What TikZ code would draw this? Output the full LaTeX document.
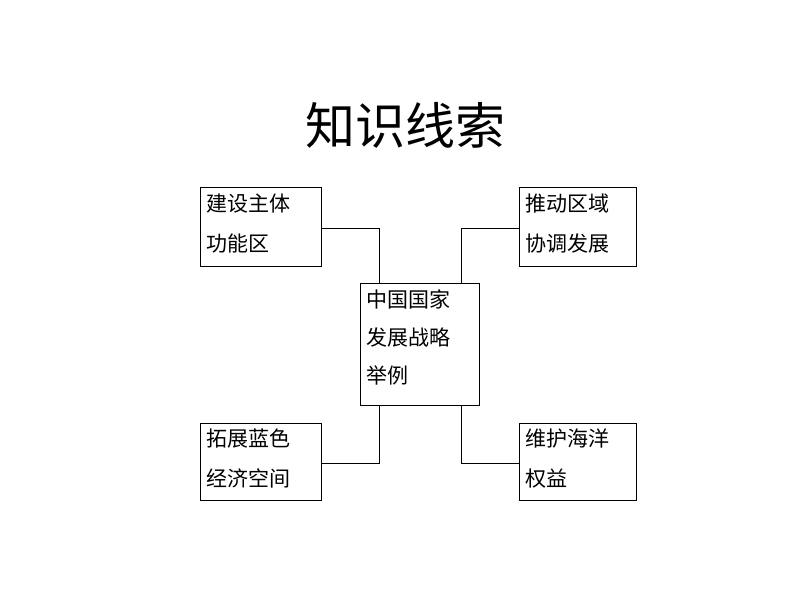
\documentclass[tikz,border=0pt]{standalone}
\usepackage{fontspec}
\setmainfont{Noto Sans CJK SC}
\begin{document}
\begin{tikzpicture}[x=1pt,y=-1pt,
  bx/.style={draw,line width=0.8pt,inner sep=0pt,align=left,anchor=north west,font=\fontsize{21}{40}\selectfont},
  ln/.style={line width=0.8pt}]
\useasboundingbox (0,0) rectangle (794,596);
\node (t) at (405,125) {\fontsize{50}{60}\selectfont 知识线索};
\node[bx,minimum width=121pt,minimum height=79pt] (a) at (200,187) {};
\node[anchor=north west,align=left,font=\fontsize{21}{40}\selectfont] at (203,190) {建设主体\\功能区};
\node[bx,minimum width=117pt,minimum height=79pt] (b) at (519,187) {};
\node[anchor=north west,align=left,font=\fontsize{21}{40}\selectfont] at (522,190) {推动区域\\协调发展};
\node[bx,minimum width=119pt,minimum height=122pt] (c) at (360,283) {};
\node[anchor=north west,align=left,font=\fontsize{21}{38}\selectfont] at (363,286) {中国国家\\发展战略\\举例};
\node[bx,minimum width=121pt,minimum height=77pt] (d) at (200,423) {};
\node[anchor=north west,align=left,font=\fontsize{21}{40}\selectfont] at (203,425) {拓展蓝色\\经济空间};
\node[bx,minimum width=117pt,minimum height=77pt] (e) at (519,423) {};
\node[anchor=north west,align=left,font=\fontsize{21}{40}\selectfont] at (522,425) {维护海洋\\权益};
\draw[ln] (a.east |- 0,228) -| (c.north -| 379,0);
\draw[ln] (b.west |- 0,228) -| (c.north -| 461,0);
\draw[ln] (d.east |- 0,463) -| (c.south -| 379,0);
\draw[ln] (e.west |- 0,463) -| (c.south -| 461,0);
\end{tikzpicture}
\end{document}
